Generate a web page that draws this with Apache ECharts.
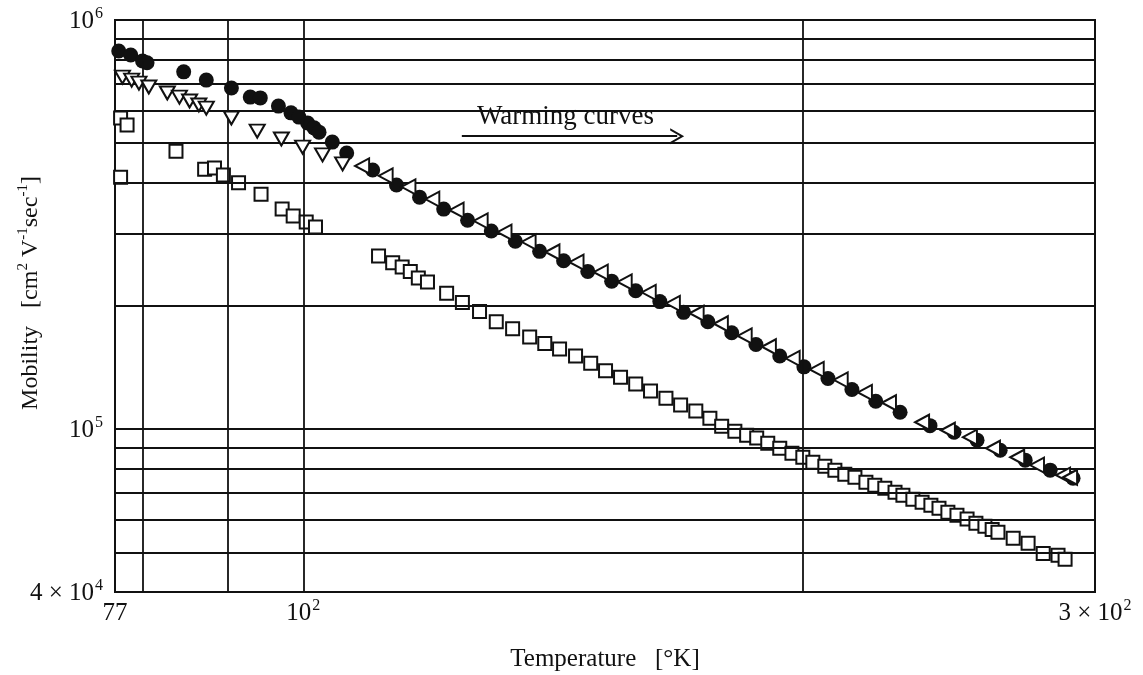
<!DOCTYPE html>
<html>
<head>
<meta charset="utf-8">
<title>Mobility vs Temperature</title>
<script src="https://cdn.jsdelivr.net/npm/echarts@6/dist/echarts.min.js"></script>
<style>
  html, body { margin: 0; padding: 0; background: #fff; }
  #chart { width: 1143px; height: 675px; }
</style>
</head>
<body>
<div id="chart"></div>
<script>
// Axis ticks and reference grid (temperature in K, mobility in cm^2/Vs)
const xTickValues = [77, 100, 300];
const xTickText = [['77', ''], ['10', '2'], ['3 × 10', '2']];
const yTickValues = [4e4, 1e5, 1e6];
const yTickText = [['4 × 10', '4'], ['10', '5'], ['10', '6']];
const xGridValues = [80, 90, 100, 200];
const yGridValues = [5e4, 6e4, 7e4, 8e4, 9e4, 1e5, 2e5, 3e5, 4e5, 5e5, 6e5, 7e5, 8e5, 9e5];

// Warming-curve annotation box and arrow (data coordinates)
const noteX = [124.6, 168.0];
const noteY = [4.8e5, 6.45e5];
const arrowY = 5.2e5;

// Filled circles
const circleData = [
  [77.4, 8.40e5], [78.7, 8.21e5], [80.0, 7.94e5], [80.5, 7.86e5], [84.7, 7.47e5],
  [87.4, 7.13e5], [90.5, 6.82e5], [92.9, 6.48e5], [94.2, 6.45e5], [96.6, 6.16e5],
  [98.3, 5.93e5], [99.4, 5.79e5], [100.6, 5.60e5], [101.5, 5.45e5], [102.2, 5.32e5],
  [104.1, 5.03e5], [106.2, 4.73e5], [110.1, 4.30e5], [113.8, 3.95e5], [117.5, 3.69e5],
  [121.5, 3.45e5], [125.6, 3.24e5], [129.8, 3.05e5], [134.2, 2.88e5], [138.8, 2.72e5],
  [143.5, 2.58e5], [148.4, 2.43e5], [153.4, 2.30e5], [158.6, 2.18e5], [164.0, 2.05e5],
  [169.5, 1.93e5], [175.3, 1.83e5], [181.2, 1.72e5], [187.4, 1.61e5], [193.7, 1.51e5],
  [200.3, 1.42e5], [207.1, 1.33e5], [214.1, 1.25e5], [221.3, 1.17e5], [228.9, 1.10e5],
  [238.6, 1.02e5], [246.7, 9.83e4], [254.7, 9.40e4], [263.0, 8.88e4], [272.3, 8.40e4],
  [281.9, 7.94e4], [291.0, 7.59e4]
];

// Open down-pointing triangles
const downTriangleData = [
  [77.8, 7.25e5], [78.8, 7.13e5], [79.6, 7.01e5], [80.7, 6.86e5], [82.8, 6.63e5],
  [84.2, 6.48e5], [85.4, 6.34e5], [86.5, 6.20e5], [87.4, 6.09e5], [90.5, 5.76e5],
  [93.8, 5.35e5], [97.0, 5.12e5], [99.9, 4.89e5], [102.7, 4.68e5], [105.6, 4.45e5]
];

// Open left-pointing triangles
const leftTriangleData = [
  [108.5, 4.40e5], [112.1, 4.16e5], [115.7, 3.91e5], [119.6, 3.65e5], [123.7, 3.43e5],
  [127.9, 3.23e5], [132.2, 3.03e5], [136.7, 2.87e5], [141.3, 2.71e5], [146.1, 2.56e5],
  [151.1, 2.42e5], [156.2, 2.29e5], [161.5, 2.16e5], [167.0, 2.03e5], [172.6, 1.92e5],
  [178.5, 1.81e5], [184.5, 1.69e5], [190.8, 1.59e5], [197.2, 1.49e5], [203.9, 1.40e5],
  [210.8, 1.32e5], [218.0, 1.23e5], [225.4, 1.16e5], [236.0, 1.04e5], [244.6, 9.94e4],
  [252.2, 9.56e4], [260.4, 8.98e4], [269.3, 8.54e4], [276.8, 8.17e4], [287.0, 7.72e4],
  [289.8, 7.63e4]
];

// Open squares
const squareData = [
  [77.6, 5.76e5], [78.3, 5.54e5], [77.6, 4.13e5], [83.8, 4.78e5], [87.2, 4.32e5],
  [88.4, 4.35e5], [89.5, 4.18e5], [91.4, 4.00e5], [94.3, 3.75e5], [97.1, 3.45e5],
  [98.6, 3.32e5], [100.4, 3.21e5], [101.7, 3.12e5],
  [111.0, 2.65e5], [113.2, 2.55e5], [114.7, 2.49e5], [116.0, 2.43e5], [117.3, 2.34e5],
  [118.8, 2.29e5], [122.0, 2.15e5], [124.7, 2.04e5], [127.7, 1.94e5], [130.7, 1.83e5],
  [133.7, 1.76e5], [136.9, 1.68e5], [139.8, 1.62e5], [142.7, 1.57e5], [145.9, 1.51e5],
  [149.0, 1.45e5], [152.1, 1.39e5], [155.3, 1.34e5], [158.6, 1.29e5], [161.9, 1.24e5],
  [165.4, 1.19e5], [168.8, 1.145e5], [172.4, 1.107e5], [175.8, 1.064e5], [178.7, 1.017e5],
  [182.0, 9.89e4], [185.0, 9.67e4], [187.6, 9.51e4], [190.5, 9.24e4], [193.7, 8.98e4],
  [197.0, 8.73e4], [200.0, 8.54e4], [202.8, 8.30e4], [206.2, 8.12e4], [209.1, 7.94e4],
  [212.0, 7.76e4], [215.0, 7.63e4], [218.3, 7.42e4], [221.0, 7.29e4], [224.1, 7.17e4],
  [227.3, 7.01e4], [229.8, 6.89e4], [233.0, 6.74e4], [236.0, 6.63e4], [238.9, 6.52e4],
  [241.6, 6.41e4], [244.6, 6.27e4], [247.7, 6.16e4], [251.2, 6.03e4], [254.3, 5.89e4],
  [257.5, 5.79e4], [260.1, 5.69e4], [262.2, 5.60e4], [267.8, 5.41e4], [273.4, 5.26e4],
  [279.2, 4.97e4], [285.0, 4.92e4], [287.8, 4.81e4]
];

const FONT = '"Liberation Serif", "DejaVu Serif", serif';
const INK = '#111';

function tickFormatter(values, texts) {
  return function (v) {
    for (let i = 0; i < values.length; i++) {
      if (Math.abs(v - values[i]) / values[i] < 1e-6) {
        const t = texts[i];
        return t[1] ? '{n|' + t[0] + '}{s|' + t[1] + '}' : '{n|' + t[0] + '}';
      }
    }
    return '';
  };
}

const tickRich = {
  n: { fontFamily: FONT, fontSize: 25, color: INK, lineHeight: 28, verticalAlign: 'bottom' },
  s: { fontFamily: FONT, fontSize: 16, color: INK, lineHeight: 28, verticalAlign: 'top', padding: [0, 0, 0, 1] }
};

const chart = echarts.init(document.getElementById('chart'), null, { renderer: 'canvas' });

chart.setOption({
  animation: false,
  backgroundColor: '#fff',
  grid: {
    left: 115, right: 48, top: 20, bottom: 83,
    containLabel: false,
    outerBoundsMode: 'none',
    show: true, borderColor: INK, borderWidth: 2, backgroundColor: 'transparent'
  },
  xAxis: {
    type: 'log', logBase: 10, min: 77, max: 300,
    name: 'Temperature   [°K]', nameLocation: 'middle', nameGap: 55,
    nameMoveOverlap: false,
    nameTextStyle: { fontFamily: FONT, fontSize: 25, color: INK },
    axisLine: { show: false },
    axisTick: { show: false },
    splitLine: { show: false },
    minorSplitLine: { show: false },
    axisLabel: {
      customValues: xTickValues,
      formatter: tickFormatter(xTickValues, xTickText),
      rich: tickRich, margin: 6, showMinLabel: true, showMaxLabel: true
    }
  },
  yAxis: {
    type: 'log', logBase: 10, min: 4e4, max: 1e6,
    name: '{n|Mobility   [cm}{s|2}{n| V}{s|-1}{n|sec}{s|-1}{n|]}',
    nameLocation: 'middle', nameGap: 72, nameRotate: 90,
    nameMoveOverlap: false,
    nameTextStyle: {
      padding: [0, 0, 0, 26],
      rich: {
        n: { fontFamily: FONT, fontSize: 24, color: INK, lineHeight: 27, verticalAlign: 'bottom' },
        s: { fontFamily: FONT, fontSize: 15, color: INK, lineHeight: 27, verticalAlign: 'top' }
      }
    },
    axisLine: { show: false },
    axisTick: { show: false },
    splitLine: { show: false },
    minorSplitLine: { show: false },
    axisLabel: {
      customValues: yTickValues,
      formatter: tickFormatter(yTickValues, yTickText),
      rich: tickRich, margin: 12, showMinLabel: true, showMaxLabel: true
    }
  },
  series: [
    {
      name: 'grid',
      type: 'line',
      data: [],
      z: 1,
      silent: true,
      markLine: {
        silent: true,
        symbol: ['none', 'none'],
        label: { show: false },
        lineStyle: { color: INK, width: 1.8, type: 'solid' },
        data: xGridValues.map(v => ({ xAxis: v })).concat(yGridValues.map(v => ({ yAxis: v })))
      }
    },
    {
      name: 'note',
      type: 'line',
      data: [],
      z: 2,
      silent: true,
      markArea: {
        silent: true,
        itemStyle: { color: '#fff', opacity: 1 },
        label: {
          show: true, position: 'insideTop', distance: 5, offset: [-4, 0],
          fontFamily: FONT, fontSize: 27, color: INK
        },
        data: [[{ name: 'Warming curves', coord: [noteX[0], noteY[1]] }, { coord: [noteX[1], noteY[0]] }]]
      },
      markLine: {
        silent: true,
        symbol: ['none', 'path://M0,14 L7,0 L14,14 L12,14 L7,4 L2,14 Z'],
        symbolSize: [16, 14],
        label: { show: false },
        lineStyle: { color: INK, width: 1.8, type: 'solid' },
        data: [[{ coord: [noteX[0], arrowY] }, { coord: [noteX[1], arrowY] }]]
      }
    },
    {
      name: 'squares',
      type: 'scatter',
      z: 3,
      symbol: 'rect',
      symbolSize: 13,
      itemStyle: { color: '#fff', borderColor: INK, borderWidth: 2, opacity: 1 },
      data: squareData
    },
    {
      name: 'circles',
      type: 'scatter',
      z: 4,
      symbol: 'circle',
      symbolSize: 15,
      itemStyle: { color: INK, opacity: 1 },
      data: circleData
    },
    {
      name: 'downTriangles',
      type: 'scatter',
      z: 5,
      symbol: 'triangle',
      symbolRotate: 180,
      symbolSize: [15, 13],
      itemStyle: { color: '#fff', borderColor: INK, borderWidth: 2, opacity: 1 },
      data: downTriangleData
    },
    {
      name: 'leftTriangles',
      type: 'scatter',
      z: 5,
      symbol: 'triangle',
      symbolRotate: 90,
      symbolSize: [15, 14],
      itemStyle: { color: '#fff', borderColor: INK, borderWidth: 2, opacity: 1 },
      data: leftTriangleData
    }
  ]
});
</script>
</body>
</html>
